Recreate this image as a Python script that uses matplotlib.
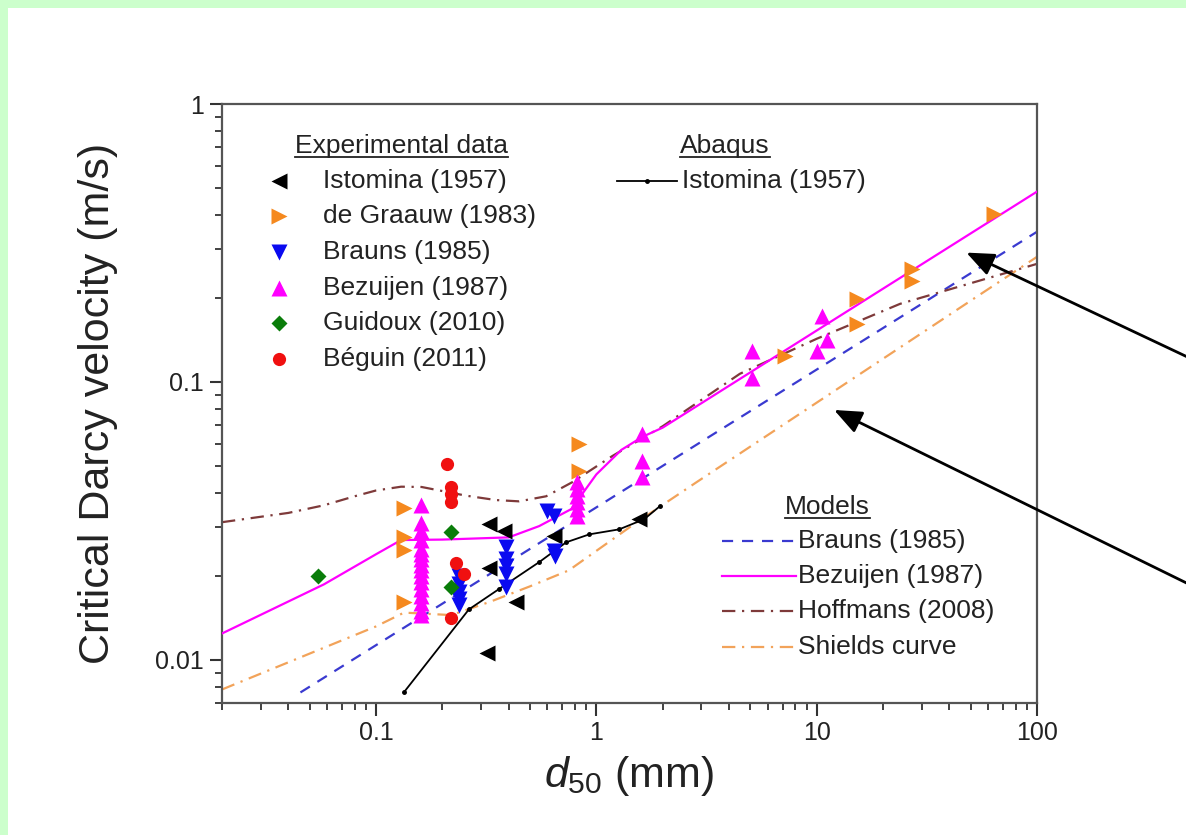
import numpy as np
import matplotlib
matplotlib.use("Agg")
import matplotlib.pyplot as plt
from matplotlib.patches import Rectangle
from matplotlib.lines import Line2D
from matplotlib.ticker import LogLocator, NullFormatter
from matplotlib.transforms import IdentityTransform

plt.rcParams['font.family'] = ['Liberation Sans', 'DejaVu Sans']
plt.rcParams['mathtext.fontset'] = 'custom'
plt.rcParams['mathtext.rm'] = 'Liberation Sans'
plt.rcParams['mathtext.it'] = 'Liberation Sans:italic'

# experimental data, d50 (mm) vs critical Darcy velocity (m/s)
istomina_d = [0.326, 0.381, 0.326, 0.432, 0.319, 0.644, 1.57]
istomina_v = [0.0308, 0.0290, 0.0214, 0.0161, 0.0106, 0.0279, 0.0321]

graauw_d = [0.134, 0.134, 0.134, 0.134, 0.837, 0.837, 7.2, 15.2, 15.2, 27.2, 27.2, 63.5]
graauw_v = [0.0351, 0.0276, 0.0248, 0.0161, 0.0598, 0.0478, 0.124, 0.199, 0.162, 0.255, 0.231, 0.403]

brauns_d = [0.238, 0.238, 0.238, 0.238, 0.238, 0.389, 0.389, 0.389, 0.389, 0.389,
            0.598, 0.644, 0.644, 0.65]
brauns_v = [0.0200, 0.0187, 0.0176, 0.0165, 0.0157, 0.0254, 0.0231, 0.0218, 0.0204, 0.0183,
            0.0343, 0.0329, 0.0246, 0.0236]

bezuijen_d = [0.16, 0.16, 0.16, 0.16, 0.16, 0.16, 0.16, 0.16, 0.16, 0.16, 0.16, 0.16,
              0.16, 0.16, 0.16, 0.16, 0.82, 0.82, 0.82, 0.82, 0.82, 0.82,
              1.62, 1.62, 1.62, 5.08, 5.08, 10.57, 10.0, 11.1]
bezuijen_v = [0.036, 0.031, 0.029, 0.027, 0.025, 0.024, 0.023, 0.022, 0.021, 0.020, 0.019,
              0.018, 0.017, 0.016, 0.015, 0.0145, 0.0436, 0.0412, 0.0388, 0.0369, 0.0349,
              0.0329, 0.065, 0.0519, 0.0455, 0.129, 0.103, 0.173, 0.129, 0.141]

guidoux_d = [0.0548, 0.219, 0.219]
guidoux_v = [0.0200, 0.0288, 0.0183]

beguin_d = [0.21, 0.219, 0.219, 0.219, 0.231, 0.251, 0.219]
beguin_v = [0.0506, 0.0418, 0.0396, 0.0370, 0.0223, 0.0203, 0.0142]

# abaqus simulation (Istomina 1957)
abaqus_d = [0.1337, 0.264, 0.362, 0.551, 0.730, 0.929, 1.27, 1.65, 1.94]
abaqus_v = [0.00764, 0.0152, 0.0180, 0.0225, 0.0265, 0.0283, 0.0295, 0.0321, 0.0357]

# models
brauns_m_d = [0.0454, 100]
brauns_m_v = [0.00764, 0.347]

bezuijen_m_d = [0.02, 0.058, 0.1, 0.13, 0.2, 0.4, 0.55, 0.77, 1.0, 1.3, 1.62, 2.0, 100]
bezuijen_m_v = [0.01245, 0.0187, 0.0240, 0.0270, 0.0271, 0.0276, 0.0303, 0.0349, 0.0465,
                0.057, 0.0635, 0.0685, 0.484]

hoffmans_d = [0.02, 0.04, 0.058, 0.08, 0.1, 0.13, 0.161, 0.256, 0.35, 0.446, 0.592, 0.778,
              1.18, 2.0, 4.48, 10, 23.9, 100]
hoffmans_v = [0.0313, 0.0338, 0.0360, 0.0388, 0.0407, 0.0420, 0.0419, 0.0390, 0.0376, 0.0372,
              0.0388, 0.0436, 0.0541, 0.0693, 0.107, 0.143, 0.191, 0.266]

shields_d = [0.02, 0.1, 0.134, 0.22, 0.33, 0.5, 0.75, 1.5, 2.85, 100]
shields_v = [0.00783, 0.0132, 0.0148, 0.0145, 0.0162, 0.0184, 0.0210, 0.0310, 0.0436, 0.282]

W, H = 1186, 835
fig = plt.figure(figsize=(W / 100, H / 100), dpi=100)
fig.patch.set_facecolor('#ccffcc')
fig.add_artist(Rectangle((8 / W, 0), 1, 1 - 8 / H, transform=fig.transFigure,
                         facecolor='white', edgecolor='none', zorder=0))

ax = fig.add_axes([222 / W, (H - 703) / H, 815 / W, 599 / H])
ax.set_xscale('log')
ax.set_yscale('log')
ax.set_xlim(0.02, 100)
ax.set_ylim(0.007, 1)

c_orange = '#f5891e'
c_blue = '#0a0af0'
c_mag = '#ff00ff'
c_green = '#0a7d0a'
c_red = '#f01010'

# model curves
ax.plot(brauns_m_d, brauns_m_v, color='#3a3ad0', lw=1.6, ls=(0, (5, 4)), zorder=2)
ax.plot(shields_d, shields_v, color='#f2a35a', lw=1.6, ls=(0, (6, 3, 1, 3)), zorder=2)
ax.plot(hoffmans_d, hoffmans_v, color='#7e3a3a', lw=1.6, ls=(0, (6, 3, 1, 3)), zorder=2)
ax.plot(bezuijen_m_d, bezuijen_m_v, color=c_mag, lw=1.6, zorder=3)
ax.plot(abaqus_d, abaqus_v, color='black', lw=1.3, marker='o', ms=2.5, zorder=3)

# experimental points
ms = 11
ax.plot(istomina_d, istomina_v, ls='none', marker='<', ms=ms, color='black', mec='none', zorder=4)
ax.plot(graauw_d, graauw_v, ls='none', marker='>', ms=ms, color=c_orange, mec='none', zorder=4)
ax.plot(brauns_d, brauns_v, ls='none', marker='v', ms=ms, color=c_blue, mec='none', zorder=4)
ax.plot(bezuijen_d, bezuijen_v, ls='none', marker='^', ms=ms, color=c_mag, mec='none', zorder=4)
ax.plot(guidoux_d, guidoux_v, ls='none', marker='D', ms=8.5, color=c_green, mec='none', zorder=4)
ax.plot(beguin_d, beguin_v, ls='none', marker='o', ms=9.5, color=c_red, mec='none', zorder=4)

# axes styling
for s in ax.spines.values():
    s.set_color('#555555')
    s.set_linewidth(1.6)
ax.set_xticks([0.1, 1, 10, 100], ['0.1', '1', '10', '100'])
ax.set_yticks([0.01, 0.1, 1], ['0.01', '0.1', '1'])
ax.xaxis.set_minor_locator(LogLocator(base=10, subs=np.arange(2, 10)))
ax.yaxis.set_minor_locator(LogLocator(base=10, subs=np.arange(2, 10)))
ax.xaxis.set_minor_formatter(NullFormatter())
ax.yaxis.set_minor_formatter(NullFormatter())
ax.tick_params(which='major', direction='out', length=9, width=1.5, color='#333333',
               labelsize=18, labelcolor='#222222', pad=4)
ax.tick_params(which='minor', direction='out', length=5, width=1.3, color='#333333')

ax.set_ylabel('Critical Darcy velocity (m/s)', fontsize=31, color='#222222')
ax.yaxis.set_label_coords(-0.128, 0.5)
ax.set_xlabel(r'$d_{50}$ (mm)', fontsize=31, color='#222222')
ax.xaxis.set_label_coords(0.5, -0.085)


def fx(px):
    return (px - 222) / 815


def fy(py):
    return (703 - py) / 599


tfs = 19
titles = []
# experimental data legend
titles.append((ax.text(fx(295), fy(153), 'Experimental data', transform=ax.transAxes,
                       fontsize=tfs, va='baseline', color='#222222'), 157))
exp_rows = [('<', 'black', 'Istomina (1957)', ms),
            ('>', c_orange, 'de Graauw (1983)', ms),
            ('v', c_blue, 'Brauns (1985)', ms),
            ('^', c_mag, 'Bezuijen (1987)', ms),
            ('D', c_green, 'Guidoux (2010)', 8.5),
            ('o', c_red, 'Béguin (2011)', 9.5)]
row_y = [181, 216, 252, 288, 323, 359]
for (m, c, lab, s), yy in zip(exp_rows, row_y):
    ax.plot([fx(279)], [fy(yy)], marker=m, ms=s, color=c, mec='none',
            transform=ax.transAxes, clip_on=False)
    ax.text(fx(323), fy(yy), lab, transform=ax.transAxes, fontsize=tfs,
            va='center', color='#222222')

# abaqus legend
titles.append((ax.text(fx(680), fy(153), 'Abaqus', transform=ax.transAxes,
                       fontsize=tfs, va='baseline', color='#222222'), 157))
ax.plot([fx(617), fx(677)], [fy(181), fy(181)], color='black', lw=1.3,
        transform=ax.transAxes)
ax.plot([fx(647)], [fy(181)], marker='o', ms=2.5, color='black', transform=ax.transAxes)
ax.text(fx(682), fy(181), 'Istomina (1957)', transform=ax.transAxes, fontsize=tfs,
        va='center', color='#222222')

# models legend
titles.append((ax.text(fx(785), fy(514), 'Models', transform=ax.transAxes,
                       fontsize=tfs, va='baseline', color='#222222'), 518))
mod_rows = [('#3a3ad0', (0, (5, 4)), 'Brauns (1985)'),
            (c_mag, '-', 'Bezuijen (1987)'),
            ('#7e3a3a', (0, (6, 3, 1, 3)), 'Hoffmans (2008)'),
            ('#f2a35a', (0, (6, 3, 1, 3)), 'Shields curve')]
mod_y = [541, 576, 611, 647]
for (c, ls, lab), yy in zip(mod_rows, mod_y):
    ax.plot([fx(722), fx(796)], [fy(yy), fy(yy)], color=c, ls=ls, lw=1.6,
            transform=ax.transAxes)
    ax.text(fx(798), fy(yy), lab, transform=ax.transAxes, fontsize=tfs,
            va='center', color='#222222')

# arrows pointing at the Bezuijen and Shields curves
arrow = dict(arrowstyle='-|>,head_length=0.6,head_width=0.25', color='black', lw=2,
             mutation_scale=28, shrinkA=0, shrinkB=0)
ax.annotate('', xy=(47.8, 0.292), xytext=(1215, H - 370), textcoords='figure pixels',
            arrowprops=arrow, annotation_clip=False)
ax.annotate('', xy=(12.0, 0.0793), xytext=(1215, H - 597), textcoords='figure pixels',
            arrowprops=arrow, annotation_clip=False)

# underline the legend titles
fig.canvas.draw()
for t, uy in titles:
    bb = t.get_window_extent()
    fig.add_artist(Line2D([bb.x0, bb.x1], [H - uy, H - uy], color='#222222', lw=1.3,
                          transform=IdentityTransform()))

fig.savefig('out.png', dpi=100)
